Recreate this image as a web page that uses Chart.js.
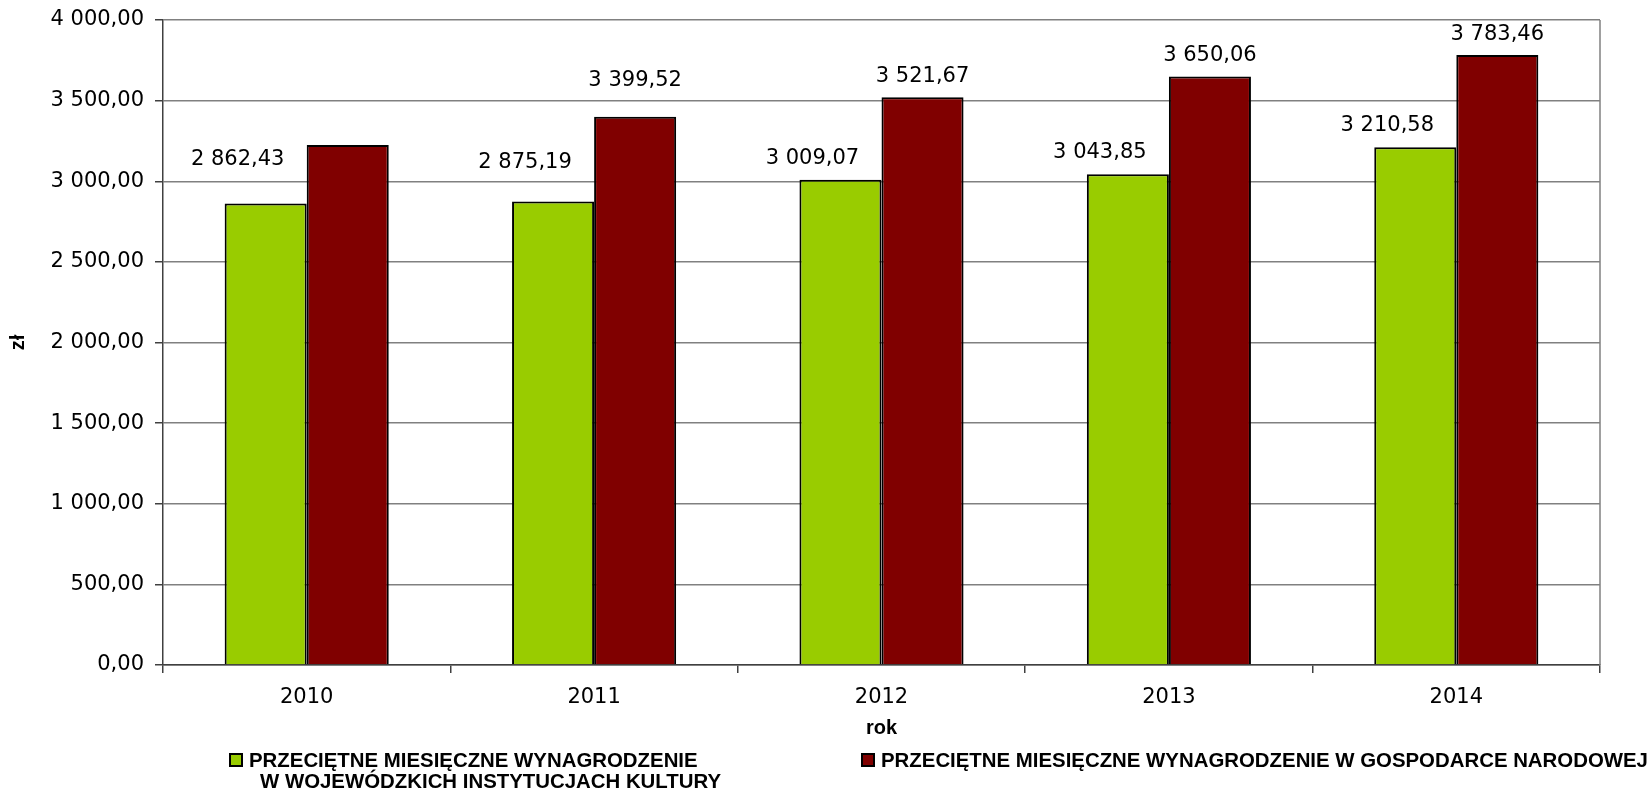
<!DOCTYPE html>
<html>
<head>
<meta charset="utf-8">
<script src="https://cdn.jsdelivr.net/npm/chart.js@4.4.1/dist/chart.umd.min.js"></script>
<style>
  html, body { margin: 0; padding: 0; background: #fff; }
  #wrap { width: 1652px; height: 792px; }
</style>
</head>
<body>
<div id="wrap"><canvas id="myChart" width="1652" height="792"></canvas></div>
<script>
const years = ['2010', '2011', '2012', '2013', '2014'];
const cultureWages = [2862.43, 2875.19, 3009.07, 3043.85, 3210.58];
const economyWages = [3224.98, 3399.52, 3521.67, 3650.06, 3783.46];
const seriesNames = [
  ['PRZECIĘTNE MIESIĘCZNE WYNAGRODZENIE', 'W WOJEWÓDZKICH INSTYTUCJACH KULTURY'],
  ['PRZECIĘTNE MIESIĘCZNE WYNAGRODZENIE W GOSPODARCE NARODOWEJ']
];

// polish number format: 3 224,98
function fmtPL(v) {
  const parts = Math.abs(v).toFixed(2).split('.');
  return parts[0].replace(/\B(?=(\d{3})+(?!\d))/g, ' ') + ',' + parts[1];
}

const REG_FONT = '21px "DejaVu Sans"';
const BOLD_FONT = 'bold 20.4px "Liberation Sans", Arial';

// values above bars
const valueLabels = {
  id: 'valueLabels',
  afterDatasetsDraw(chart, args, opts) {
    const {ctx} = chart;
    ctx.save();
    ctx.font = REG_FONT;
    ctx.fillStyle = '#000';
    ctx.textAlign = 'center';
    ctx.textBaseline = 'alphabetic';
    chart.data.datasets.forEach((ds, i) => {
      const meta = chart.getDatasetMeta(i);
      const shift = opts.shifts[i];
      meta.data.forEach((bar, j) => {
        // a couple of labels were dragged up by hand in the original
        const lift = (opts.lifts[i] && opts.lifts[i][j]) || 0;
        ctx.fillText(fmtPL(ds.data[j]), bar.x + shift.dx, bar.y - shift.gap - lift);
      });
    });
    ctx.restore();
  }
};

// right edge of plot area
const frame = {
  id: 'frame',
  beforeDatasetsDraw(chart) {
    const {ctx, chartArea: {top, right, bottom}} = chart;
    ctx.save();
    ctx.strokeStyle = '#808080';
    ctx.lineWidth = 1.5;
    ctx.beginPath();
    ctx.moveTo(right, top);
    ctx.lineTo(right, bottom);
    ctx.stroke();
    ctx.restore();
  }
};

// legend under the axis title
const bottomLegend = {
  id: 'bottomLegend',
  afterDraw(chart) {
    const {ctx, chartArea: {left}} = chart;
    const items = [
      {x: left + 67, color: chart.data.datasets[0].backgroundColor, lines: seriesNames[0]},
      {x: left + 699, color: chart.data.datasets[1].backgroundColor, lines: seriesNames[1]}
    ];
    ctx.save();
    ctx.font = BOLD_FONT;
    ctx.textBaseline = 'middle';
    ctx.textAlign = 'left';
    items.forEach(it => {
      ctx.fillStyle = it.color;
      ctx.fillRect(it.x, 754, 12, 12);
      ctx.strokeStyle = '#000';
      ctx.lineWidth = 2;
      ctx.strokeRect(it.x, 754, 12, 12);
      ctx.fillStyle = '#000';
      it.lines.forEach((t, k) => ctx.fillText(t, it.x + 19 + k * 11, 761 + k * 21));
    });
    ctx.restore();
  }
};

const ctx = document.getElementById('myChart').getContext('2d');
const myChart = new Chart(ctx, {
  type: 'bar',
  data: {
    labels: years,
    datasets: [{
      label: seriesNames[0].join(' '),
      data: cultureWages,
      backgroundColor: '#99CC00',
      borderColor: '#000',
      borderWidth: 2
    }, {
      label: seriesNames[1].join(' '),
      data: economyWages,
      backgroundColor: '#800000',
      borderColor: '#000',
      borderWidth: 2
    }]
  },
  plugins: [frame, valueLabels, bottomLegend],
  options: {
    responsive: false,
    animation: false,
    categoryPercentage: 0.571,
    barPercentage: 1,
    layout: { padding: { top: 20, right: 52, bottom: 49, left: 0 } },
    plugins: {
      legend: { display: false },
      tooltip: { enabled: false },
      valueLabels: {
        shifts: [{dx: -28, gap: 16}, {dx: 0, gap: 15}],
        lifts: [{0: 22, 1: 17}, {1: 16}]
      }
    },
    scales: {
      x: {
        afterFit(scale) { scale.height = 78; },
        grid: {
          drawOnChartArea: false,
          drawTicks: true,
          tickLength: 8,
          tickColor: '#404040',
          lineWidth: 1.5
        },
        border: { color: '#404040', width: 1.5 },
        ticks: { color: '#000', font: { family: 'DejaVu Sans', size: 21 }, padding: 12 },
        title: {
          display: true,
          text: 'rok',
          color: '#000',
          font: { family: '"Liberation Sans", Arial', size: 20, weight: 'bold' },
          padding: { top: 0, bottom: 3 }
        }
      },
      y: {
        min: 0,
        max: 4000,
        afterFit(scale) {
          scale.width = 163;
          scale.paddingTop = 0;
          scale.paddingBottom = 0;
        },
        grid: {
          color: '#808080',
          lineWidth: 1.5,
          tickLength: 8,
          tickColor: '#404040'
        },
        border: { color: '#404040', width: 1.5 },
        ticks: {
          stepSize: 500,
          color: '#000',
          font: { family: 'DejaVu Sans', size: 21 },
          padding: 11,
          callback: v => fmtPL(v)
        },
        title: {
          display: true,
          text: 'zł',
          color: '#000',
          font: { family: '"Liberation Sans", Arial', size: 20, weight: 'bold' },
          padding: { top: 6, bottom: 0 }
        }
      }
    }
  }
});
</script>
</body>
</html>
